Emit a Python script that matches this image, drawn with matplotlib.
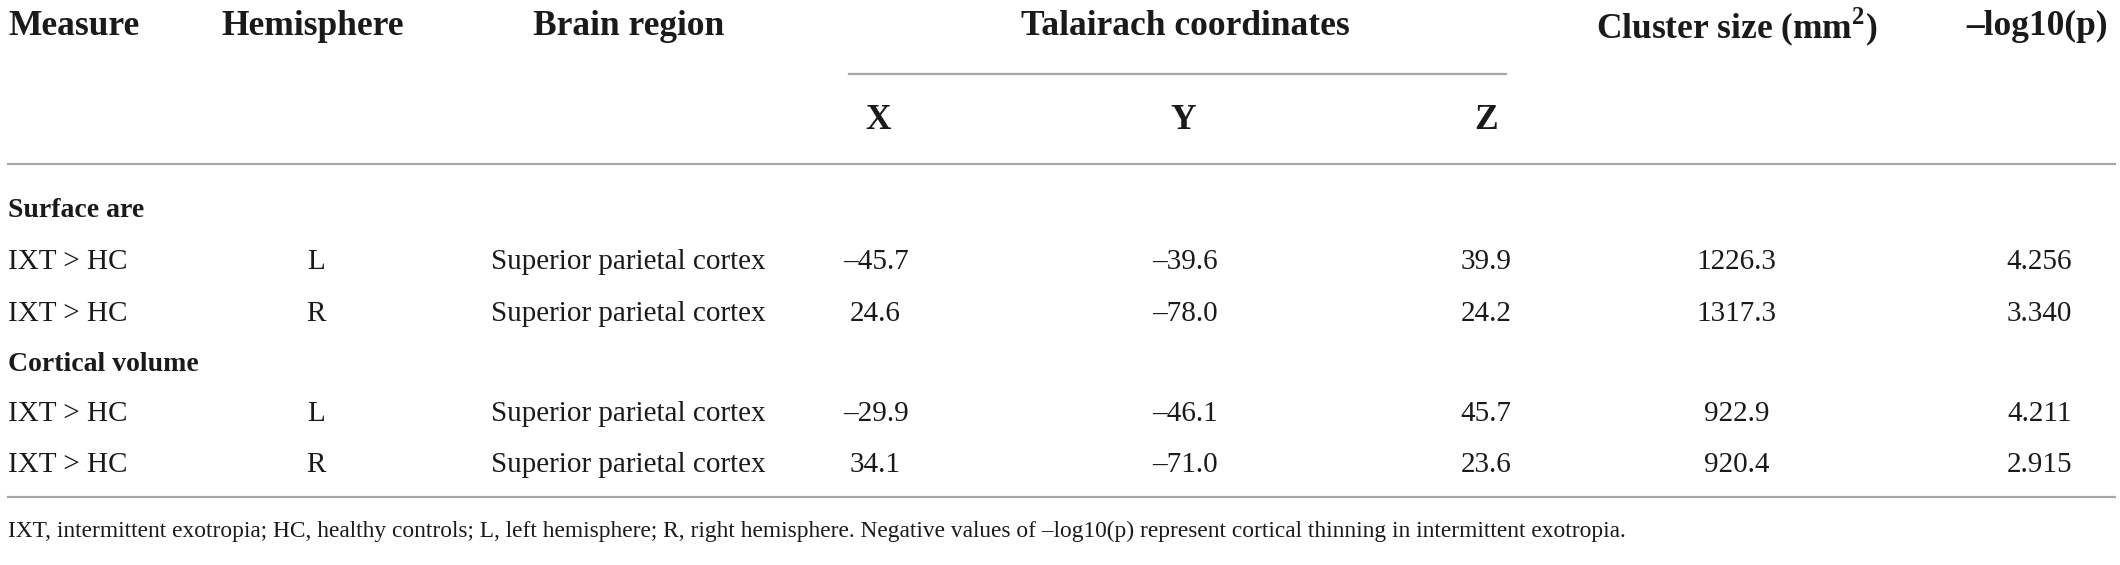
import matplotlib
matplotlib.use("Agg")
import matplotlib.pyplot as plt

plt.rcParams['font.family'] = ['Liberation Serif', 'DejaVu Serif']
plt.rcParams['mathtext.fontset'] = 'custom'
plt.rcParams['mathtext.rm'] = 'Liberation Serif'
plt.rcParams['mathtext.bf'] = 'Liberation Serif:bold'

# ---- data ----
headers = ["Measure", "Hemisphere", "Brain region", "Talairach coordinates",
           "Cluster size (mm$^{\\mathbf{2}}$)", "\u2013log10(p)"]
coord_labels = ["X", "Y", "Z"]
groups = ["Surface are", "Cortical volume"]
measure = ["IXT > HC", "IXT > HC", "IXT > HC", "IXT > HC"]
hemisphere = ["L", "R", "L", "R"]
region = ["Superior parietal cortex"] * 4
x_vals = ["\u201345.7", "24.6", "\u201329.9", "34.1"]
y_vals = ["\u201339.6", "\u201378.0", "\u201346.1", "\u201371.0"]
z_vals = ["39.9", "24.2", "45.7", "23.6"]
cluster = ["1226.3", "1317.3", "922.9", "920.4"]
logp = ["4.256", "3.340", "4.211", "2.915"]
footnote = ("IXT, intermittent exotropia; HC, healthy controls; L, left hemisphere; "
            "R, right hemisphere. Negative values of \u2013log10(p) represent cortical "
            "thinning in intermittent exotropia.")

# ---- layout ----
fig = plt.figure(figsize=(21.2, 5.65), dpi=100)
ax = fig.add_axes([0, 0, 1, 1])
ax.set_xlim(0, 1)
ax.set_ylim(1, 0)
ax.axis('off')

FS = 21
FS_HEAD = 25.5
FS_GROUP = 20
FS_FOOT = 16.8
line_col = '#a6a6a6'
txt_col = '#1a1a1a'

x_measure = 0.004
x_hemi = 0.149
x_region = 0.2964
x_x = 0.413
x_y = 0.559
x_z = 0.701
x_cluster = 0.819
x_logp = 0.962

y_head = 0.047
y_tline = 0.131
y_sub = 0.214
y_line1 = 0.290
y_group = [0.373, 0.646]
y_rows = [0.464, 0.555, 0.732, 0.823]
y_line2 = 0.879
y_foot = 0.94

# headers
ax.text(x_measure, y_head, headers[0], ha='left', va='center', fontsize=FS_HEAD, fontweight='bold', color=txt_col)
ax.text(0.1046, y_head, headers[1], ha='left', va='center', fontsize=FS_HEAD, fontweight='bold', color=txt_col)
ax.text(x_region, y_head, headers[2], ha='center', va='center', fontsize=FS_HEAD, fontweight='bold', color=txt_col)
ax.text(0.559, y_head, headers[3], ha='center', va='center', fontsize=FS_HEAD, fontweight='bold', color=txt_col)
ax.text(x_cluster, y_head, headers[4], ha='center', va='center', fontsize=FS_HEAD, fontweight='bold', color=txt_col)
ax.text(0.961, y_head, headers[5], ha='center', va='center', fontsize=FS_HEAD, fontweight='bold', color=txt_col)

ax.plot([0.4005, 0.7105], [y_tline, y_tline], color=line_col, lw=1.6)
for xc, lab in zip([0.414, 0.558, 0.701], coord_labels):
    ax.text(xc, y_sub, lab, ha='center', va='center', fontsize=FS_HEAD, fontweight='bold', color=txt_col)

ax.plot([0.004, 0.9975], [y_line1, y_line1], color=line_col, lw=1.6)
ax.plot([0.004, 0.9975], [y_line2, y_line2], color=line_col, lw=1.6)

for yg, g in zip(y_group, groups):
    ax.text(x_measure, yg, g, ha='left', va='center', fontsize=FS_GROUP, fontweight='bold', color=txt_col)

for i, yr in enumerate(y_rows):
    ax.text(x_measure, yr, measure[i], ha='left', va='center', fontsize=FS, color=txt_col)
    ax.text(x_hemi, yr, hemisphere[i], ha='center', va='center', fontsize=FS, color=txt_col)
    ax.text(x_region, yr, region[i], ha='center', va='center', fontsize=FS, color=txt_col)
    ax.text(x_x, yr, x_vals[i], ha='center', va='center', fontsize=FS, color=txt_col)
    ax.text(x_y, yr, y_vals[i], ha='center', va='center', fontsize=FS, color=txt_col)
    ax.text(x_z, yr, z_vals[i], ha='center', va='center', fontsize=FS, color=txt_col)
    ax.text(x_cluster, yr, cluster[i], ha='center', va='center', fontsize=FS, color=txt_col)
    ax.text(x_logp, yr, logp[i], ha='center', va='center', fontsize=FS, color=txt_col)

ax.text(x_measure, y_foot, footnote, ha='left', va='center', fontsize=FS_FOOT, color=txt_col)

fig.savefig("out.png", dpi=100, facecolor='white')
